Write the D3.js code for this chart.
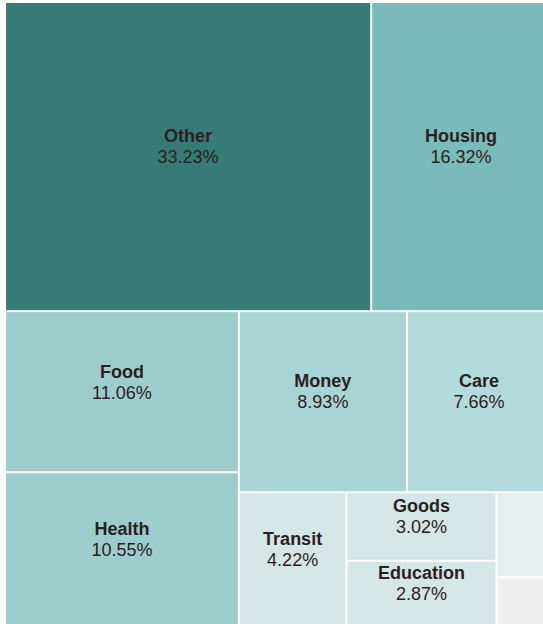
<!DOCTYPE html>
<html>
<head>
<meta charset="utf-8">
<script src="https://cdn.jsdelivr.net/npm/d3@7"></script>
<style>
  html, body { margin: 0; padding: 0; background: #ffffff; overflow: hidden; }
  svg { display: block; }
</style>
</head>
<body>
<svg id="chart" width="543" height="624"></svg>
<script>
// Data (percent shares)
const categories = ["Other", "Housing", "Food", "Health", "Money", "Care", "Transit", "Goods", "Education", "Misc A", "Misc B"];
const values     = [33.23, 16.32, 11.06, 10.55, 8.93, 7.66, 4.22, 3.02, 2.87, 1.36, 0.78];
const showLabel  = [true, true, true, true, true, true, true, true, true, false, false];
const colors     = ["#367b78", "#7bbaba", "#9ccccc", "#9ccccc", "#a9d4d5", "#b3dbdb", "#d5e6e6", "#d5e6e6", "#d5e6e6", "#e8eeee", "#efefef"];

const svg = d3.select("#chart");
const originX = 6, originY = 3;
const W = 544, H = 622;

const root = d3.hierarchy({
  children: categories.map((c, i) => ({ name: c, value: values[i], label: showLabel[i], color: colors[i] }))
})
  .sum(d => d.value || 0)
  .sort((a, b) => b.value - a.value);

d3.treemap()
  .tile(d3.treemapSquarify)
  .size([W, H])
  .paddingInner(2)
  .round(false)(root);

const g = svg.append("g").attr("transform", `translate(${originX},${originY})`);

const cell = g.selectAll("g.cell")
  .data(root.leaves())
  .join("g")
  .attr("class", "cell");

cell.append("rect")
  .attr("x", d => d.x0)
  .attr("y", d => d.y0)
  .attr("width", d => d.x1 - d.x0)
  .attr("height", d => d.y1 - d.y0)
  .attr("fill", d => d.data.color);

const labelled = cell.filter(d => d.data.label);

labelled.append("text")
  .attr("x", d => (d.x0 + d.x1) / 2)
  .attr("y", d => (d.y0 + d.y1) / 2 - 19)
  .attr("text-anchor", "middle")
  .attr("dominant-baseline", "middle")
  .attr("font-family", "'Liberation Sans', Arial, sans-serif")
  .attr("font-weight", "bold")
  .attr("font-size", "18px")
  .attr("fill", "#2b1f22")
  .text(d => d.data.name);

labelled.append("text")
  .attr("x", d => (d.x0 + d.x1) / 2)
  .attr("y", d => (d.y0 + d.y1) / 2 + 2)
  .attr("text-anchor", "middle")
  .attr("dominant-baseline", "middle")
  .attr("font-family", "'Liberation Sans', Arial, sans-serif")
  .attr("font-size", "18px")
  .attr("fill", "#2b1f22")
  .text(d => d3.format(".2f")(d.data.value) + "%");
</script>
</body>
</html>
